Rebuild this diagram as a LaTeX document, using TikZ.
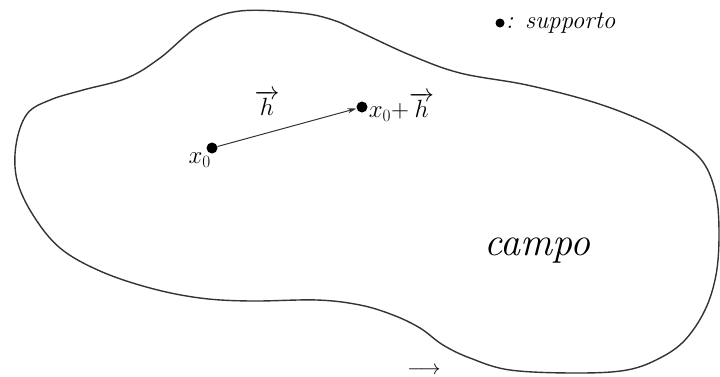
\documentclass[tikz,border=0pt]{standalone}
\usetikzlibrary{arrows.meta}
\begin{document}
\begin{tikzpicture}[x=1pt,y=-1pt,
  dot/.style={circle,fill=black,inner sep=0pt,minimum size=11pt},
  outline/.style={line width=1.4pt,draw=black!80},
  lbl/.style={font=\fontsize{24}{28}\selectfont,inner sep=1pt},
  vecarrow/.style={-{Stealth[length=9pt,width=5pt]},line width=1pt,draw=black!80}]
\useasboundingbox (0,0) rectangle (720,376);
\draw[outline] plot[smooth cycle,tension=0.6] coordinates {
 (240,11) (300,13) (333,20) (360,32) (410,55) (460,73) (527,85) (593,102)
 (643,121) (677,140) (703,162) (716,195) (719,235) (716,275) (705,310)
 (685,340) (660,358) (627,370) (577,373) (510,370) (470,358) (443,345)
 (420,328) (393,315) (360,305) (317,300) (250,301) (200,298) (150,288)
 (100,271) (60,248) (33,215) (17,180) (16,145) (27,114) (50,100) (83,90)
 (127,78) (160,58) (200,25)};
\node[dot] (x0) at (212,148) {};
\node[dot] (xh) at (362,107) {};
\draw[vecarrow] (x0) -- (xh);
\node[lbl,anchor=north east,inner sep=0pt] (x0l) at ([xshift=3pt,yshift=-1pt]x0.south west) {$x_0$};
\node[lbl] (hl) at (267,103) {$\overrightarrow{h}$};
\node[lbl,anchor=west] (xhl) at (xh.east) {$x_0{+}\overrightarrow{h}$};
\node[dot,minimum size=9pt] (sd) at (500,23) {};
\node[anchor=west,inner sep=1pt,font=\fontsize{25}{30}\selectfont\itshape] (sup) at (sd.east) {: supporto};
\node[font=\fontsize{40}{44}\selectfont\itshape] (campo) at (537,251) {campo};
\node[font=\fontsize{22}{24}\selectfont,inner sep=0pt] (arr) at (424,370.5) {$\longrightarrow$};
\end{tikzpicture}
\end{document}
